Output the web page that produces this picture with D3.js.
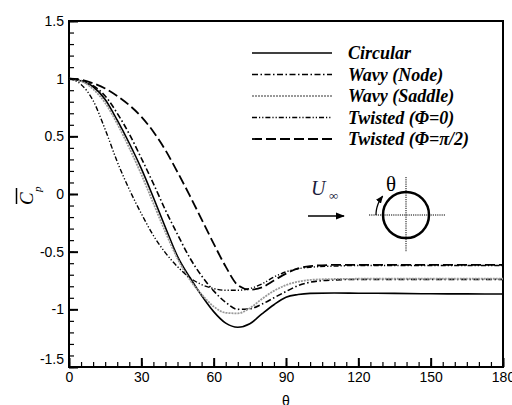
<!DOCTYPE html>
<html>
<head>
<meta charset="utf-8">
<script src="https://cdn.jsdelivr.net/npm/d3@7"></script>
<style>
  body { margin: 0; background: #fff; }
  svg { display: block; }
</style>
</head>
<body>
<div id="cp_chart"></div>
<script>
var theta = [0, 5, 10, 15, 20, 25, 30, 35, 40, 45, 50, 55, 60, 65, 70, 75, 80, 85, 90, 95, 100, 110, 120, 135, 150, 165, 180];

// mean pressure coefficient for each case
var circular = [1.0, 0.98, 0.93, 0.82, 0.64, 0.44, 0.22, -0.03, -0.29, -0.54, -0.72, -0.88, -1.02, -1.12, -1.155, -1.125, -1.04, -0.96, -0.895, -0.872, -0.862, -0.858, -0.86, -0.862, -0.865, -0.866, -0.867];
var wavyNode = [1.0, 0.985, 0.94, 0.85, 0.70, 0.52, 0.31, 0.09, -0.14, -0.35, -0.55, -0.71, -0.84, -0.94, -1.0, -0.995, -0.955, -0.9, -0.845, -0.795, -0.765, -0.745, -0.74, -0.74, -0.74, -0.74, -0.74];
var wavySaddle = [1.0, 0.98, 0.91, 0.79, 0.61, 0.40, 0.17, -0.08, -0.33, -0.56, -0.74, -0.87, -0.975, -1.03, -1.035, -0.99, -0.91, -0.84, -0.79, -0.76, -0.745, -0.737, -0.735, -0.735, -0.735, -0.735, -0.735];
var twistedPhi0 = [1.0, 0.95, 0.81, 0.56, 0.28, 0.04, -0.17, -0.36, -0.51, -0.63, -0.725, -0.785, -0.82, -0.835, -0.835, -0.82, -0.78, -0.72, -0.675, -0.648, -0.635, -0.625, -0.62, -0.62, -0.62, -0.62, -0.62];
var twistedPhiHalfPi = [1.0, 0.99, 0.96, 0.915, 0.85, 0.77, 0.67, 0.54, 0.38, 0.19, -0.01, -0.22, -0.43, -0.63, -0.79, -0.83, -0.81, -0.75, -0.69, -0.645, -0.625, -0.615, -0.615, -0.615, -0.615, -0.615, -0.615];

var xTicks = [0, 30, 60, 90, 120, 150, 180];
var yTicks = [-1.5, -1, -0.5, 0, 0.5, 1, 1.5];
var legendLabels = ["Circular", "Wavy (Node)", "Wavy (Saddle)", "Twisted (\u03A6=0)", "Twisted (\u03A6=\u03C0/2)"];

// line look for every case, same order as the legend
var styles = [
    {color: "#000", width: 1.6, dash: null},
    {color: "#000", width: 1.6, dash: "6,2.5,1.5,2.5"},
    {color: "#999", width: 1.8, dash: "2,1"},
    {color: "#000", width: 1.4, dash: "5,2,1.2,2,1.2,2"},
    {color: "#000", width: 1.8, dash: "10,4"}
];
var seriesValues = [circular, wavyNode, wavySaddle, twistedPhi0, twistedPhiHalfPi];

var width = 512, height = 405;
var margin = {top: 21, right: 9, bottom: 38, left: 69};
var tickFont = "'Liberation Sans', Arial, sans-serif";
var serifFont = "'Liberation Serif', 'Times New Roman', serif";

var svg = d3.select("#cp_chart")
    .append("svg")
    .attr("width", width)
    .attr("height", height);

var x = d3.scaleLinear()
    .domain([0, 180])
    .range([margin.left, width - margin.right]);

var y = d3.scaleLinear()
    .domain([-1.5, 1.5])
    .range([height - margin.bottom, margin.top]);

// minor ticks (inside the frame)
svg.append("g")
    .attr("transform", `translate(0,${height - margin.bottom})`)
    .call(d3.axisBottom(x).tickValues(d3.range(0, 181, 5)).tickSize(-5).tickFormat(""))
    .call(g => g.select(".domain").remove())
    .call(g => g.selectAll("line").attr("stroke-width", 1.2));

svg.append("g")
    .attr("transform", `translate(${margin.left},0)`)
    .call(d3.axisLeft(y).tickValues(d3.range(-15, 16, 1).map(d => d / 10)).tickSize(-5).tickFormat(""))
    .call(g => g.select(".domain").remove())
    .call(g => g.selectAll("line").attr("stroke-width", 1.2));

// major ticks + labels
var xAxis = g => g
    .attr("transform", `translate(0,${height - margin.bottom})`)
    .call(d3.axisBottom(x).tickValues(xTicks).tickSize(-9).tickPadding(5).tickFormat(d => String(d)))
    .call(g => g.select(".domain").remove())
    .call(g => g.selectAll("line").attr("stroke-width", 2))
    .attr("font-family", tickFont)
    .attr("font-size", 14);

var yAxis = g => g
    .attr("transform", `translate(${margin.left},0)`)
    .call(d3.axisLeft(y).tickValues(yTicks).tickSize(-9).tickPadding(5).tickFormat(d => String(d)))
    .call(g => g.select(".domain").remove())
    .call(g => g.selectAll("line").attr("stroke-width", 2))
    .attr("font-family", tickFont)
    .attr("font-size", 14);

svg.append("g").call(xAxis);
var yg = svg.append("g").call(yAxis);
// bottom label sits a bit higher so it clears the "0" of the x axis
yg.selectAll(".tick text").filter(d => d === -1.5).attr("y", -8);

// frame
svg.append("rect")
    .attr("x", margin.left)
    .attr("y", margin.top)
    .attr("width", width - margin.left - margin.right)
    .attr("height", height - margin.top - margin.bottom)
    .attr("fill", "none")
    .attr("stroke", "#000")
    .attr("stroke-width", 2);

var line = d3.line()
    .curve(d3.curveMonotoneX)
    .x((d, i) => x(theta[i]))
    .y(d => y(d));

svg.append("g")
    .selectAll("path")
    .data(seriesValues)
    .join("path")
    .attr("fill", "none")
    .attr("stroke", (d, i) => styles[i].color)
    .attr("stroke-width", (d, i) => styles[i].width)
    .attr("stroke-dasharray", (d, i) => styles[i].dash)
    .attr("d", d => line(d));

// legend
var legend = svg.append("g")
    .selectAll("g")
    .data(legendLabels)
    .join("g")
    .attr("transform", (d, i) => `translate(252,${53 + i * 21.5})`);

legend.append("line")
    .attr("x1", 0)
    .attr("x2", 80)
    .attr("stroke", (d, i) => styles[i].color)
    .attr("stroke-width", (d, i) => styles[i].width)
    .attr("stroke-dasharray", (d, i) => styles[i].dash);

legend.append("text")
    .attr("x", 96)
    .attr("dy", "0.35em")
    .attr("font-family", serifFont)
    .attr("font-weight", "bold")
    .attr("font-style", "italic")
    .attr("font-size", 18)
    .text(d => d);

// axis titles
svg.append("text")
    .attr("x", (margin.left + width - margin.right) / 2)
    .attr("y", 406)
    .attr("text-anchor", "middle")
    .attr("font-family", tickFont)
    .attr("font-size", 14)
    .text("\u03B8");

var yTitle = svg.append("g")
    .attr("transform", "translate(33,205) rotate(-90)");
yTitle.append("text")
    .attr("font-family", serifFont)
    .attr("font-style", "italic")
    .attr("font-size", 19)
    .text("C");
yTitle.append("text")
    .attr("x", 13)
    .attr("y", 8)
    .attr("font-family", serifFont)
    .attr("font-style", "italic")
    .attr("font-size", 11)
    .text("p");
yTitle.append("line")
    .attr("x1", 1).attr("x2", 17)
    .attr("y1", -16.5).attr("y2", -16.5)
    .attr("stroke", "#000")
    .attr("stroke-width", 1.5);

// inset sketch: free stream and cylinder
var defs = svg.append("defs");
defs.append("marker")
    .attr("id", "head")
    .attr("viewBox", "0 0 10 10")
    .attr("refX", 9).attr("refY", 5)
    .attr("markerWidth", 6).attr("markerHeight", 6)
    .attr("orient", "auto")
    .append("path")
    .attr("d", "M0,1L10,5L0,9Z")
    .attr("fill", "#000");

var inset = svg.append("g");
inset.append("text")
    .attr("x", 311).attr("y", 195)
    .attr("font-family", serifFont)
    .attr("font-style", "italic")
    .attr("font-size", 20)
    .attr("fill", "#1c1c3c")
    .text("U");
inset.append("text")
    .attr("x", 329).attr("y", 200)
    .attr("font-family", serifFont)
    .attr("font-size", 13)
    .attr("fill", "#1c1c3c")
    .text("\u221E");
inset.append("line")
    .attr("x1", 308).attr("x2", 344)
    .attr("y1", 216).attr("y2", 216)
    .attr("stroke", "#000")
    .attr("stroke-width", 1.5)
    .attr("marker-end", "url(#head)");

var cx = 406, cy = 215, r = 23;
inset.append("line")
    .attr("x1", cx - 37).attr("x2", cx + 39)
    .attr("y1", cy).attr("y2", cy)
    .attr("stroke", "#000").attr("stroke-width", 1)
    .attr("stroke-dasharray", "1.2,1");
inset.append("line")
    .attr("x1", cx).attr("x2", cx)
    .attr("y1", cy - 38).attr("y2", cy + 37)
    .attr("stroke", "#000").attr("stroke-width", 1)
    .attr("stroke-dasharray", "1.2,1");
inset.append("circle")
    .attr("cx", cx).attr("cy", cy).attr("r", r)
    .attr("fill", "none")
    .attr("stroke", "#000")
    .attr("stroke-width", 2.5);

// small curved arrow showing the direction of theta
inset.append("path")
    .attr("transform", `translate(${cx},${cy})`)
    .attr("d", d3.line()(d3.range(0, 1.0001, 0.1).map(t => {
        var a = Math.PI - t * 0.68;
        return [30 * Math.cos(a), -30 * Math.sin(a)];
    })))
    .attr("fill", "none")
    .attr("stroke", "#000")
    .attr("stroke-width", 1.3)
    .attr("marker-end", "url(#head)");

inset.append("text")
    .attr("x", 391).attr("y", 191)
    .attr("text-anchor", "middle")
    .attr("font-family", serifFont)
    .attr("font-size", 21)
    .text("\u03B8");
</script>
</body>
</html>
